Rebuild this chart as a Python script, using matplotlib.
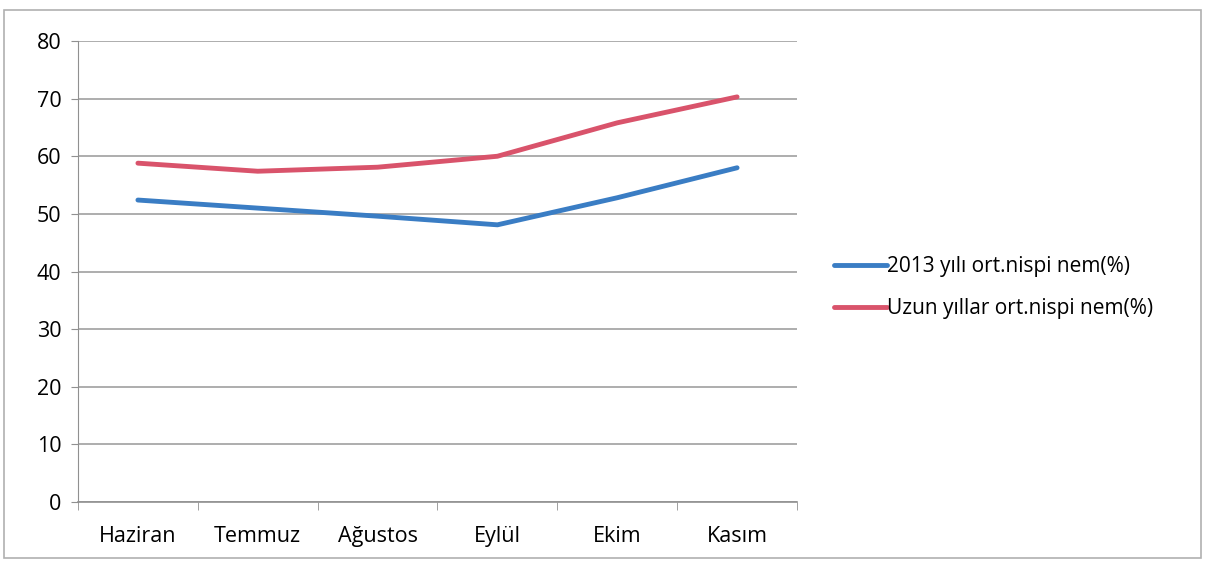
import matplotlib.pyplot as plt
from matplotlib.patches import Rectangle

# monthly relative humidity
months = ["Haziran", "Temmuz", "Ağustos", "Eylül", "Ekim", "Kasım"]
nem_2013 = [52.4, 51.0, 49.6, 48.1, 52.8, 58.0]
nem_uzun = [58.8, 57.4, 58.1, 60.0, 65.8, 70.3]

plt.rcParams['font.family'] = ['Open Sans', 'DejaVu Sans']

fig = plt.figure(figsize=(12.09, 5.64), dpi=100)
# outer chart border
fig.patches.append(Rectangle((0.003, 0.01), 0.99, 0.972, transform=fig.transFigure,
                             fill=False, edgecolor='#b0b0b0', linewidth=1.2))

ax = fig.add_axes([78 / 1209, 1 - 502 / 564, (797 - 78) / 1209, (502 - 41) / 564])
x = list(range(len(months)))
ax.plot(x, nem_2013, color='#3a7dc4', linewidth=3.5, label='2013 yılı ort.nispi nem(%)',
        solid_capstyle='round')
ax.plot(x, nem_uzun, color='#d9536b', linewidth=3.5, label='Uzun yıllar ort.nispi nem(%)',
        solid_capstyle='round')

ax.set_xlim(-0.5, len(months) - 0.5)
ax.set_ylim(0, 80)
ax.set_yticks(range(0, 81, 10))
ax.set_xticks(x)
ax.set_xticklabels(months, fontsize=15.5)
ax.tick_params(axis='x', length=0, pad=17)
ax.set_xticks([i - 0.5 for i in range(len(months) + 1)], minor=True)
ax.tick_params(axis='x', which='minor', length=6, color='#909090', direction='out')
ax.tick_params(axis='y', length=5, color='#909090', labelsize=15.5, pad=7)

ax.grid(axis='y', color='#a0a0a0', linewidth=1.2)
ax.set_axisbelow(True)
for s in ['top', 'right']:
    ax.spines[s].set_visible(False)
ax.spines['left'].set_color('#909090')
ax.spines['bottom'].set_color('#909090')
ax.spines['bottom'].set_linewidth(1.2)

ax.legend(loc='center left', bbox_to_anchor=(1.026, 0.465), frameon=False, fontsize=15,
          handlelength=2.5, handletextpad=0.0, labelspacing=1.0)

plt.savefig("out.png", dpi=100)
